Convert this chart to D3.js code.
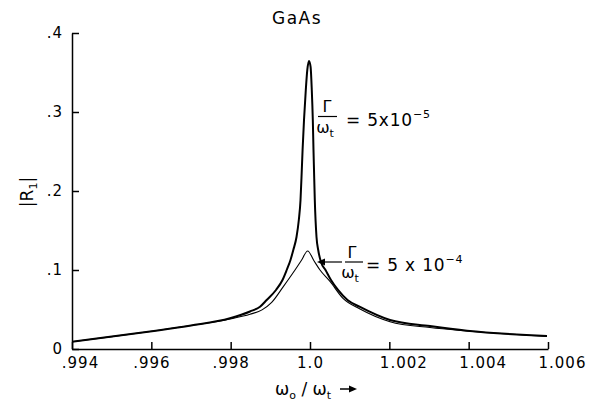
<!DOCTYPE html>
<html>
<head>
<meta charset="utf-8">
<script src="https://cdn.jsdelivr.net/npm/d3@7"></script>
<style>
  body { margin: 0; background: #fff; }
  text { font-family: "DejaVu Sans", sans-serif; fill: #000; }
</style>
</head>
<body>
<script>
///////////////////////
// GaAs |R1| vs w0/wt //
///////////////////////

var xTicks      = [0.994, 0.996, 0.998, 1.0, 1.002, 1.004, 1.006];
var xTickLabels = [".994", ".996", ".998", "1.0", "1.002", "1.004", "1.006"];
var yTicks      = [0, 0.1, 0.2, 0.3, 0.4];
var yTickLabels = ["0", ".1", ".2", ".3", ".4"];

// Gamma/wt = 5x10^-5 (sharp peak, heavy line)
var narrowX = [0.994000, 0.994958, 0.995966, 0.997000, 0.997983, 0.998487, 0.998740, 0.998908,
               0.999143, 0.999307, 0.999413, 0.999508, 0.999579, 0.999660, 0.999718, 0.999761,
               0.999793, 0.999813, 0.999849, 0.999894, 0.999932, 0.999975, 1.000015, 1.000045,
               1.000071, 1.000088, 1.000101, 1.000121, 1.000164, 1.000207, 1.000277, 1.000391,
               1.000529, 1.000706, 1.000945, 1.001261, 1.002017, 1.003025, 1.003958, 1.005975];
var narrowY = [0.0092, 0.0154, 0.0222, 0.0297, 0.0389, 0.0475, 0.0535, 0.0620,
               0.0747, 0.0873, 0.1000, 0.1127, 0.1253, 0.1418, 0.1633, 0.1886,
               0.2266, 0.2519, 0.2899, 0.3278, 0.3532, 0.3646, 0.3570, 0.3278,
               0.2899, 0.2519, 0.2266, 0.1886, 0.1418, 0.1253, 0.1101, 0.1000,
               0.0873, 0.0747, 0.0620, 0.0532, 0.0367, 0.0291, 0.0232, 0.0165];

// Gamma/wt = 5x10^-4 (broad peak, thin line)
var broadX = [0.994000, 0.994958, 0.995966, 0.997000, 0.997983, 0.998487, 0.998790, 0.999034,
              0.999327, 0.999622, 0.999781, 0.999942, 1.000096, 1.000252, 1.000504, 1.000832,
              1.001261, 1.002017, 1.003025, 1.003958, 1.005975];
var broadY = [0.0092, 0.0154, 0.0222, 0.0297, 0.0380, 0.0440, 0.0495, 0.0590,
              0.0790, 0.1000, 0.1120, 0.1241, 0.1120, 0.1000, 0.0855, 0.0640,
              0.0506, 0.0346, 0.0272, 0.0228, 0.0158];

var W = 592, H = 408;
var svg = d3.select("body").append("svg")
    .attr("width", W)
    .attr("height", H);

var x = d3.scaleLinear().domain([0.994, 1.006]).range([72, 548]);
var y = d3.scaleLinear().domain([0, 0.4]).range([349, 33]);

// Axes (ticks point inward)
var xAxis = svg.append("g")
    .attr("transform", "translate(0," + y(0) + ")")
    .call(d3.axisBottom(x)
        .tickValues(xTicks)
        .tickSizeInner(-7)
        .tickSizeOuter(0)
        .tickPadding(8)
        .tickFormat(function(d, i) { return xTickLabels[i]; }));

xAxis.selectAll(".tick text")
    .attr("font-size", 15)
    .attr("letter-spacing", 1)
    .each(function(d, i) {
        var t = d3.select(this);
        if (xTickLabels[i].indexOf("1.00") === 0) {
            t.attr("text-anchor", "start").attr("x", -10);
        } else if (i === 0) {
            t.attr("x", 8);
        }
    });

var yAxis = svg.append("g")
    .attr("transform", "translate(" + x(0.994) + ",0)")
    .call(d3.axisLeft(y)
        .tickValues(yTicks)
        .tickSizeInner(-7)
        .tickSizeOuter(0)
        .tickPadding(9)
        .tickFormat(function(d, i) { return yTickLabels[i]; }));

yAxis.selectAll(".tick text")
    .attr("font-size", 15)
    .attr("letter-spacing", 1);

svg.selectAll(".domain, .tick line")
    .attr("stroke", "#000")
    .attr("stroke-width", 1.5);

// Curves
var line = d3.line()
    .x(function(d) { return x(d[0]); })
    .y(function(d) { return y(d[1]); })
    .curve(d3.curveMonotoneX);

svg.append("path")
    .datum(broadX.map(function(v, i) { return [v, broadY[i]]; }))
    .attr("d", line)
    .attr("fill", "none")
    .attr("stroke", "#000")
    .attr("stroke-width", 1.1);

svg.append("path")
    .datum(narrowX.map(function(v, i) { return [v, narrowY[i]]; }))
    .attr("d", line)
    .attr("fill", "none")
    .attr("stroke", "#000")
    .attr("stroke-width", 2);

// Title
svg.append("text")
    .attr("x", 297).attr("y", 24)
    .attr("text-anchor", "middle")
    .attr("font-size", 17)
    .attr("letter-spacing", 1.5)
    .text("GaAs");

// Y label |R1|
var yl = svg.append("text")
    .attr("transform", "translate(33,192) rotate(-90)")
    .attr("text-anchor", "middle")
    .attr("font-size", 17);
yl.append("tspan").text("|R");
yl.append("tspan").attr("font-size", 11).attr("dy", 4).text("1");
yl.append("tspan").attr("dy", -4).text("|");

// X label w0 / wt ->
var xl = svg.append("text")
    .attr("x", 275).attr("y", 395)
    .attr("font-size", 17);
xl.append("tspan").text("ω");
xl.append("tspan").attr("font-size", 11).attr("dy", 4).text("o");
xl.append("tspan").attr("dy", -4).text(" / ω");
xl.append("tspan").attr("font-size", 11).attr("dy", 4).text("t");

svg.append("line")
    .attr("x1", 340).attr("x2", 352)
    .attr("y1", 389).attr("y2", 389)
    .attr("stroke", "#000").attr("stroke-width", 1.5);
svg.append("path")
    .attr("d", "M357,389 L349,385.5 L349,392.5 Z")
    .attr("fill", "#000");

// Gamma/wt labels
var fraction = function(cx, barY, x0, x1, expText, eqX, eqText) {
    svg.append("text")
        .attr("x", cx).attr("y", barY - 4.5)
        .attr("text-anchor", "middle")
        .attr("font-size", 16)
        .text("Γ");
    svg.append("line")
        .attr("x1", x0).attr("x2", x1)
        .attr("y1", barY).attr("y2", barY)
        .attr("stroke", "#000").attr("stroke-width", 1.2);
    var w = svg.append("text")
        .attr("x", cx - 2).attr("y", barY + 16)
        .attr("text-anchor", "middle")
        .attr("font-size", 16);
    w.append("tspan").text("ω");
    w.append("tspan").attr("font-size", 11).attr("dy", 4).text("t");
    var e = svg.append("text")
        .attr("x", eqX).attr("y", barY + 9)
        .attr("font-size", 17)
        .attr("letter-spacing", 0.8);
    e.append("tspan").text(eqText);
    e.append("tspan").attr("font-size", 11).attr("dy", -8).text(expText);
};

fraction(327, 116.5, 318, 337, "−5", 346, "= 5x10");
fraction(352, 262, 345, 363, "−4", 366, "= 5 x 10");

// arrow pointing at the curves
svg.append("line")
    .attr("x1", 342).attr("x2", 323)
    .attr("y1", 262).attr("y2", 262)
    .attr("stroke", "#000").attr("stroke-width", 1.2);
svg.append("path")
    .attr("d", "M317,262 L325,258.5 L325,265.5 Z")
    .attr("fill", "#000");
</script>
</body>
</html>
